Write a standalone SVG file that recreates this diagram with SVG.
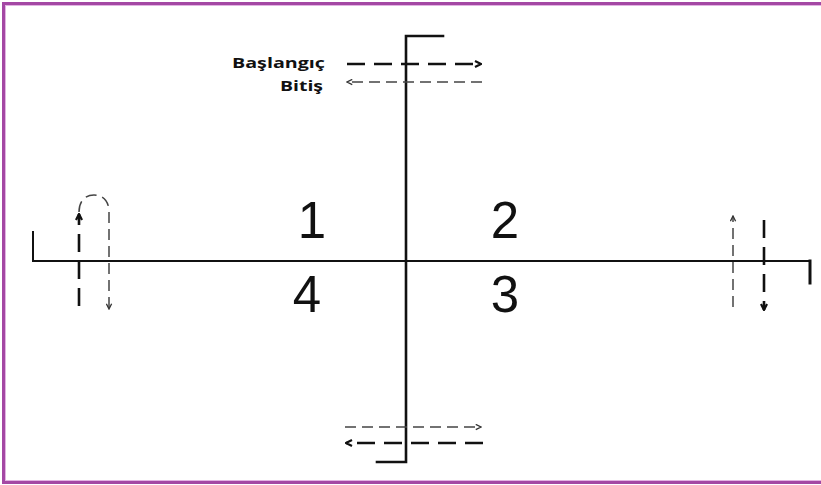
<svg xmlns="http://www.w3.org/2000/svg" width="821" height="485" viewBox="0 0 821 485">
<defs>
<style>
.ax{stroke:#111;fill:none;stroke-linecap:square}
.thick{stroke:#111;stroke-width:2.6;fill:none;stroke-dasharray:18 9}
.thin{stroke:#444;stroke-width:1.5;fill:none;stroke-dasharray:11 6}
.lbl{font-family:"Open Sans","Liberation Sans",sans-serif;font-weight:bold;font-size:15px;fill:#111;text-anchor:end}
.num{font-family:"Liberation Sans",Arial,sans-serif;font-size:51px;fill:#111;text-anchor:middle}
</style>
<marker id="hk" viewBox="0 0 8 8" refX="7" refY="4" markerWidth="8" markerHeight="8" markerUnits="userSpaceOnUse" orient="auto">
<path d="M1,1 L7,4 L1,7" fill="none" stroke="#111" stroke-width="2.2"/>
</marker>
<marker id="hn" viewBox="0 0 8 8" refX="7" refY="4" markerWidth="7" markerHeight="7" markerUnits="userSpaceOnUse" orient="auto">
<path d="M1,1 L7,4 L1,7" fill="none" stroke="#333" stroke-width="1.5"/>
</marker>
</defs>
<rect width="821" height="485" fill="#fff"/>
<g id="frame">
<rect x="3.5" y="3.5" width="830" height="479" fill="none" stroke="#A448A4" stroke-width="3"/>
<rect x="5.5" y="5.5" width="826" height="475" fill="none" stroke="#E2B4E2" stroke-width="1"/>
</g>
<g id="axes">
<path class="ax" d="M443,36 H406 V462 H377" stroke-width="2.6"/>
<path class="ax" d="M33,232 V261 H809" stroke-width="2"/>
<path class="ax" d="M810,261 V283" stroke-width="3"/>
</g>
<g id="quadrants">
<text class="num" x="312" y="238">1</text>
<text class="num" x="505" y="238">2</text>
<text class="num" x="505" y="312">3</text>
<text class="num" x="307" y="312">4</text>
</g>
<g id="legend">
<text class="lbl" x="325" y="68" textLength="93" lengthAdjust="spacingAndGlyphs">Başlangıç</text>
<text class="lbl" x="323" y="91" textLength="43" lengthAdjust="spacingAndGlyphs">Bitiş</text>
</g>
<g id="connectors">
<path class="thick" d="M347,64 H481" marker-end="url(#hk)"/>
<path class="thin" d="M482,82 H347" marker-end="url(#hn)"/>
<path class="thin" d="M345,427 H481" marker-end="url(#hn)"/>
<path class="thick" d="M483,443 H346" marker-end="url(#hk)"/>
<path class="thick" d="M79,306 V214" marker-end="url(#hk)"/>
<path class="thin" d="M79,212 C79,200 86,195 94,195 C102,195 109,200 109,212 V309" marker-end="url(#hn)"/>
<path class="thin" d="M733,307 V216" marker-end="url(#hn)"/>
<path class="thick" d="M764,220 V310" marker-end="url(#hk)"/>
</g>
</svg>
